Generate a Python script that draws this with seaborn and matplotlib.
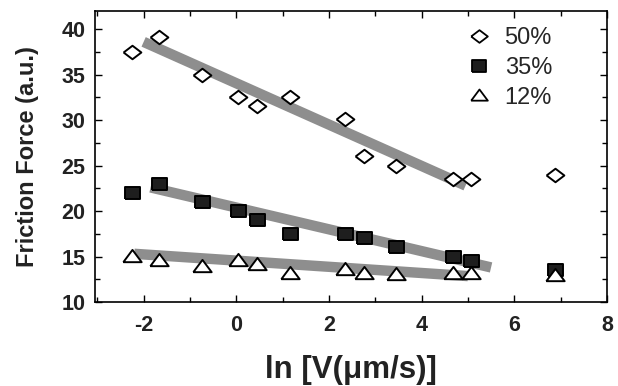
import numpy as np
import pandas as pd
import matplotlib
matplotlib.use("Agg")
import matplotlib.pyplot as plt
import seaborn as sns
from matplotlib.ticker import MultipleLocator
from matplotlib.lines import Line2D

# ---- data ----
x_vals = [-2.26, -1.67, -0.75, 0.04, 0.45, 1.15, 2.35, 2.75, 3.45, 4.67, 5.07, 6.88]
y_50 = [37.5, 39.1, 35.0, 32.5, 31.5, 32.5, 30.1, 26.0, 25.0, 23.5, 23.5, 24.0]
y_35 = [22.0, 23.0, 21.0, 20.0, 19.0, 17.5, 17.5, 17.0, 16.0, 15.0, 14.5, 13.5]
y_12 = [15.1, 14.6, 14.0, 14.6, 14.2, 13.2, 13.6, 13.15, 13.05, 13.2, 13.15, 13.0]

fit_x_50 = [-2.0, 4.95]
fit_y_50 = [38.6, 22.8]
fit_x_35 = [-1.85, 5.5]
fit_y_35 = [22.6, 13.8]
fit_x_12 = [-2.2, 5.0]
fit_y_12 = [15.3, 12.85]

labels = ["50%", "35%", "12%"]
x_ticks = [-2, 0, 2, 4, 6, 8]
y_ticks = [10, 15, 20, 25, 30, 35, 40]

sns.set_theme(style="ticks")
plt.rcParams["font.family"] = ["Liberation Sans", "DejaVu Sans"]
plt.rcParams["axes.unicode_minus"] = False

fig = plt.figure(figsize=(6.18, 3.86), dpi=100)
ax = fig.add_axes([0.1537, 0.2176, 0.8283, 0.754])

gray = "#8e8e8e"
for fx, fy in [(fit_x_50, fit_y_50), (fit_x_35, fit_y_35), (fit_x_12, fit_y_12)]:
    sns.lineplot(x=fx, y=fy, ax=ax, color=gray, linewidth=7.5,
                 solid_capstyle="butt", zorder=1)

diamond = [(-1, 0), (0, 0.76), (1, 0), (0, -0.76), (-1, 0)]
square = [(-1, -0.85), (1, -0.85), (1, 0.85), (-1, 0.85), (-1, -0.85)]
triangle = [(-1, -0.62), (1, -0.62), (0, 0.72), (-1, -0.62)]

series = [
    (y_50, diamond, "white", 12.8 ** 2, labels[0]),
    (y_35, square, "#1e1e1e", 10.8 ** 2, labels[1]),
    (y_12, triangle, "white", 13.2 ** 2, labels[2]),
]
for ys, mk, fc, s, lab in series:
    df = pd.DataFrame({"x": x_vals, "y": ys})
    sns.scatterplot(data=df, x="x", y="y", ax=ax, marker=mk, s=s,
                    facecolor=fc, edgecolor="black", linewidth=1.4,
                    zorder=3, label=lab)

ax.set_xlim(-3.05, 8.0)
ax.set_ylim(10, 42)
ax.set_xticks(x_ticks)
ax.set_yticks(y_ticks)
ax.xaxis.set_minor_locator(MultipleLocator(1))
ax.yaxis.set_minor_locator(MultipleLocator(2.5))
ax.tick_params(which="both", direction="in", top=True, right=True,
               color="black", width=1.0)
ax.tick_params(which="major", length=5, labelsize=15.5)
ax.tick_params(axis="x", which="major", pad=9)
ax.tick_params(axis="y", which="major", pad=7)
ax.tick_params(which="minor", length=3.5)
for lbl in ax.get_xticklabels() + ax.get_yticklabels():
    lbl.set_fontweight("bold")
    lbl.set_color("#222222")
for sp in ax.spines.values():
    sp.set_visible(True)
    sp.set_color("black")
    sp.set_linewidth(1.2)

ax.set_xlabel("ln [V(\u03bcm/s)]", fontsize=22.5, fontweight="bold",
              color="#222222", labelpad=14)
ax.set_ylabel("Friction Force (a.u.)", fontsize=17, fontweight="bold",
              color="#222222", labelpad=16)

handles = [
    Line2D([], [], linestyle="none", marker=diamond, markersize=12,
           markerfacecolor="white", markeredgecolor="black", markeredgewidth=1.3),
    Line2D([], [], linestyle="none", marker=square, markersize=10.5,
           markerfacecolor="#1e1e1e", markeredgecolor="black", markeredgewidth=1.3),
    Line2D([], [], linestyle="none", marker=triangle, markersize=12,
           markerfacecolor="white", markeredgecolor="black", markeredgewidth=1.3),
]
ax.legend(handles, labels, loc="upper right", bbox_to_anchor=(0.925, 1.0),
          frameon=False, fontsize=17, handletextpad=0.5,
          labelspacing=0.32, borderpad=0.2, handlelength=1.2)

fig.savefig("out.png", dpi=100)
